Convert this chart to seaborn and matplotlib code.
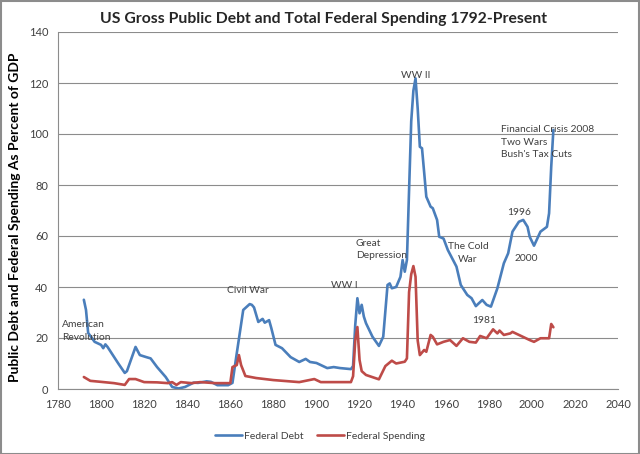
import matplotlib
matplotlib.use("Agg")
import matplotlib.pyplot as plt
import seaborn as sns
import pandas as pd
from matplotlib.patches import Rectangle

debt_years = [1792, 1793, 1794, 1797, 1800, 1801, 1802, 1803, 1808, 1811, 1812, 1816, 1818,
              1821, 1823, 1826, 1830, 1833, 1836, 1839, 1843, 1845, 1849, 1851, 1854, 1859,
              1861, 1863, 1866, 1869, 1870, 1871, 1873, 1875, 1876, 1878, 1879, 1881, 1884,
              1888, 1892, 1895, 1897, 1900, 1905, 1908, 1911, 1916, 1917, 1918, 1919, 1920,
              1921, 1922, 1923, 1926, 1929, 1931, 1933, 1934, 1935, 1937, 1939, 1940, 1941,
              1942, 1943, 1944, 1945, 1946, 1947, 1948, 1949, 1950, 1951, 1953, 1954, 1956,
              1957, 1959, 1961, 1965, 1967, 1970, 1972, 1974, 1977, 1979, 1981, 1984, 1987,
              1989, 1991, 1994, 1996, 1998, 1999, 2001, 2004, 2007, 2008, 2009, 2010]
debt_values = [35, 31, 22, 18.5, 17.3, 16, 17.5, 16.5, 10, 6.3, 7, 16.5, 13.3,
               12.5, 12, 8.6, 4.7, 0.8, 0.2, 0.8, 2.5, 2.4, 3, 2.8, 1.5, 1.5,
               2.4, 14, 31, 33.3, 33, 32, 26.3, 27.5, 26, 27, 24, 17.3, 16,
               12.5, 10.6, 11.8, 10.6, 10.2, 8.2, 8.6, 8.2, 7.8, 9, 25, 35.6, 29.7,
               33, 28.4, 25.8, 20.5, 16.9, 20.5, 40.8, 41.4, 39.5, 40, 44, 50.6, 46,
               50.6, 78, 105, 117, 121.8, 110, 95, 94.4, 85, 75.4, 71.5, 70.9, 66.3,
               59.7, 59, 54.5, 48, 40.8, 36.9, 35.6, 32.5, 34.9, 33, 32.3, 39.5, 49.3,
               53.2, 61.7, 65.6, 66.3, 63.6, 59.7, 56.2, 61.7, 63.6, 68.9, 87.2, 101.6]

spend_years = [1792, 1795, 1800, 1806, 1811, 1813, 1816, 1820, 1826, 1831, 1833, 1835, 1837,
               1842, 1846, 1853, 1860, 1861, 1863, 1864, 1865, 1867, 1872, 1880, 1892, 1899,
               1902, 1916, 1917, 1918, 1919, 1920, 1921, 1923, 1929, 1932, 1935, 1937, 1941,
               1942, 1943, 1944, 1945, 1946, 1947, 1948, 1950, 1951, 1953, 1954, 1956, 1959,
               1962, 1965, 1968, 1971, 1974, 1976, 1979, 1982, 1984, 1985, 1987, 1990, 1991,
               1994, 1999, 2001, 2004, 2008, 2009, 2010]
spend_values = [4.7, 3.2, 2.8, 2.3, 1.6, 3.9, 3.9, 2.7, 2.6, 2.3, 2.7, 1.6, 2.7,
                2.3, 2.7, 2.3, 2.3, 8.6, 9.4, 13.3, 9.4, 5.1, 4.3, 3.5, 2.7, 3.9,
                2.7, 2.7, 5, 19, 24.3, 11.4, 7, 5.5, 3.8, 9, 11.1, 10, 10.7,
                12, 38, 45, 48.2, 44, 19, 13.3, 15.3, 14.6, 21.2, 20.5, 17.5, 18.5,
                19.2, 16.9, 19.9, 18.5, 18.2, 20.8, 19.9, 23.4, 21.8, 22.9, 21.2, 21.8, 22.4,
                21.2, 19.2, 18.5, 19.9, 19.9, 25.5, 24.2]

series_names = ["Federal Debt", "Federal Spending"]
x_ticks = list(range(1780, 2041, 20))
y_ticks = list(range(0, 141, 20))

annotations = [
    ("American\nRevolution", 1782, 27, "left"),
    ("Civil War", 1868, 40.4, "center"),
    ("WW I", 1912.8, 42.4, "center"),
    ("Great\nDepression", 1918.3, 59, "left"),
    ("WW II", 1946.2, 124.7, "center"),
    ("The Cold\nWar", 1970.3, 57.5, "center"),
    ("1981", 1977.8, 28.6, "center"),
    ("1996", 1994, 71, "center"),
    ("2000", 1997.3, 53, "center"),
    ("Financial Crisis 2008\nTwo Wars\nBush's Tax Cuts", 1985.7, 103.5, "left"),
]

sns.set_style("white")
plt.rcParams["font.family"] = ["Lato", "DejaVu Sans"]

df = pd.concat([
    pd.DataFrame({"Year": debt_years, "Value": debt_values, "Series": series_names[0]}),
    pd.DataFrame({"Year": spend_years, "Value": spend_values, "Series": series_names[1]}),
])

fig = plt.figure(figsize=(6.4, 4.54), dpi=100)
ax = fig.add_axes([58 / 640, 1 - 389 / 454, 560 / 640, 357 / 454])

palette = {series_names[0]: "#4A7EBB", series_names[1]: "#BE4B48"}
sns.lineplot(data=df, x="Year", y="Value", hue="Series", palette=palette,
             estimator=None, sort=False, linewidth=1.9, ax=ax, legend=True)
for line in ax.get_lines():
    line.set_solid_joinstyle("round")

ax.set_xlim(1780, 2040)
ax.set_ylim(0, 140)
ax.set_xticks(x_ticks)
ax.set_yticks(y_ticks)
ax.yaxis.grid(True, color="#8c8c8c", linewidth=0.8)
ax.xaxis.grid(False)
ax.set_axisbelow(True)
for s in ["top", "right"]:
    ax.spines[s].set_visible(False)
for s in ["left", "bottom"]:
    ax.spines[s].set_color("#8c8c8c")
    ax.spines[s].set_linewidth(0.8)
ax.tick_params(axis="both", direction="out", length=4, width=0.8, color="#8c8c8c",
               labelsize=8, labelcolor="#404040", pad=3)
ax.set_xlabel("")
ax.set_ylabel("Public Debt and Federal Spending As Percent of GDP", fontsize=10,
              fontweight="bold", color="black")
ax.yaxis.set_label_coords(-0.066, (389 - 217) / 357)
fig.text(323 / 640, 1 - 19 / 454, "US Gross Public Debt and Total Federal Spending 1792-Present",
         ha="center", va="center", fontsize=11.3, fontweight="bold")

for txt, x, y, ha in annotations:
    ax.text(x, y, txt, ha=ha, va="top", fontsize=7.4, color="#404040", linespacing=1.5)

handles, labels = ax.get_legend_handles_labels()
ax.get_legend().remove()
fig.legend(handles, labels, loc="center", bbox_to_anchor=(0.5, 1 - 436 / 454), ncol=2,
           frameon=False, fontsize=7.5, handlelength=2.6, columnspacing=1.2,
           handletextpad=0.2, labelcolor="#404040")

fig.patches.append(Rectangle((0.001, 0.001), 0.997, 0.997, transform=fig.transFigure,
                             fill=False, edgecolor="#8c8c8c", linewidth=1.5))
fig.savefig("out.png", dpi=100)
